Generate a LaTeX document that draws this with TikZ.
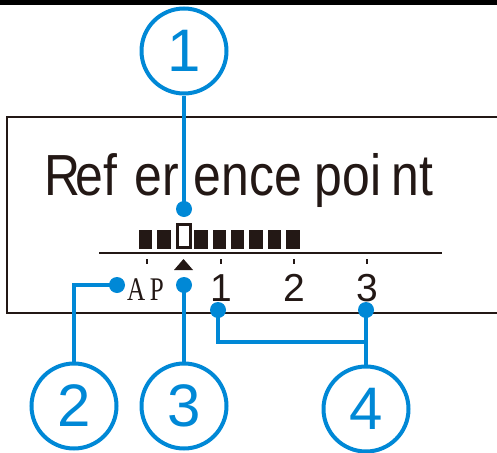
\documentclass[tikz,border=0pt]{standalone}
\usepackage{fontspec}
\setmainfont{Liberation Sans}
\newfontfamily\apfont{Liberation Serif}
\definecolor{calloutblue}{HTML}{0088D6}
\definecolor{lcdblack}{HTML}{231815}
\begin{document}
\begin{tikzpicture}[x=1pt, y=-1pt,
    callout/.style={circle, draw=calloutblue, line width=4pt, minimum size=85pt, inner sep=0pt,
                    text=calloutblue, font=\fontsize{60}{60}\selectfont},
    leader/.style={draw=calloutblue, line width=4pt},
    pindot/.style={circle, fill=calloutblue, inner sep=0pt, minimum size=16pt},
    segon/.style={fill=lcdblack, inner sep=0pt, minimum width=13.5pt, minimum height=19pt},
    digit/.style={text=lcdblack, anchor=base, inner sep=0pt, font=\fontsize{39}{39}\selectfont}]
    \clip (0,0) rectangle (497,452);
    % Marco superior y pantalla
    \fill[black] (0,0) rectangle (497,5);
    \draw[line width=1.5pt, lcdblack] (7,117) rectangle (520,313);
    % Texto de la pantalla
    \node[anchor=base west, inner sep=0pt, text=lcdblack, font=\fontsize{58}{58}\selectfont] (title) at (44,195)
        {\scalebox{0.86}[1]{R\kern-5pt ef\hspace{20pt}er\hspace{17pt}ence\hspace{15pt}poi\hspace{12pt}nt}};
    % Barra de segmentos
    \foreach \i in {0,1,3,4,5,6,7,8}
        \node[segon] (seg\i) at ({145.7+18.4*\i},239.5) {};
    \node[draw=lcdblack, line width=3pt, minimum width=13pt, minimum height=23pt, inner sep=0pt] (cursor) at (184,236) {};
    % Escala
    \draw[line width=2pt, lcdblack] (99,253) -- (442,253);
    \foreach \tx in {147,221,294,367}
        \draw[line width=2pt, lcdblack] (\tx,259) -- (\tx,264);
    \fill[lcdblack] (183.5,259) -- (193,270) -- (174,270) -- cycle;
    \node[anchor=base west, inner sep=0pt, text=lcdblack, font=\apfont\fontsize{33}{33}\selectfont] (ap) at (127,300)
        {\scalebox{0.76}[1]{A\hspace{6pt}P}};
    \node[digit] (n1) at (221,301) {1};
    \node[digit] (n2) at (294,301) {2};
    \node[digit] (n3) at (367,301) {3};
    % Llamadas
    \node[callout] (c1) at (184,51) {1};
    \node[callout] (c2) at (74,406) {2};
    \node[callout] (c3) at (184,406) {3};
    \node[callout] (c4) at (366,409) {4};
    \node[pindot] (d1) at (184,209) {};
    \node[pindot] (d2) at (117,285) {};
    \node[pindot] (d3) at (184,285) {};
    \node[pindot] (d4a) at (218,310) {};
    \node[pindot] (d4b) at (366,310) {};
    \coordinate (j4) at (366,342);
    \draw[leader] (c1.south) -- (d1.center);
    \draw[leader] (d2.center) -| (c2.north);
    \draw[leader] (d3.center) -- (c3.north);
    \draw[leader] (d4a.center) |- (j4);
    \draw[leader] (d4b.center) -- (c4.north);
\end{tikzpicture}
\end{document}
